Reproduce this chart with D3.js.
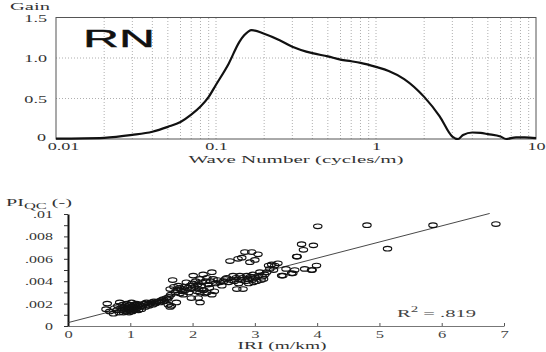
<!DOCTYPE html>
<html><head><meta charset="utf-8">
<script src="https://cdn.jsdelivr.net/npm/d3@7"></script>
<style>
html,body{margin:0;padding:0;background:#fff;}
svg{display:block;}
</style></head>
<body>
<svg id="chart" width="546" height="352" font-family="Liberation Serif, DejaVu Serif, serif"></svg>
<script>
// ---------- Top chart data: RN gain vs wave number ----------
const waveNumber = [0.01,0.02,0.03,0.04,0.05,0.06,0.07,0.08,0.09,0.1,0.12,0.14,0.15,0.167,0.2,0.25,0.3,0.4,0.5,0.6,0.7,0.8,1.0,1.2,1.5,2.0,2.5,3.0,3.26,3.5,4.0,4.5,5.0,6.0,6.5,7.5,8.5,10];
const gain       = [0.005,0.015,0.05,0.09,0.15,0.21,0.30,0.40,0.52,0.67,0.93,1.20,1.28,1.345,1.30,1.22,1.14,1.06,1.02,0.98,0.96,0.94,0.89,0.84,0.74,0.52,0.28,0.03,0.0,0.05,0.08,0.075,0.06,0.03,0.0,0.02,0.02,0.01];
const topXTicks = [0.01,0.1,1,10];
const topXTickLabels = ["0.01","0.1","1","10"];
const topYTicks = [0,0.5,1.0,1.5];
const topYTickLabels = ["0","0.5","1.0","1.5"];

// ---------- Bottom chart data: PI_QC vs IRI ----------
const iri = [
0.63,0.61,0.67,0.73,0.75,0.78,0.80,0.82,0.83,0.85,0.86,0.88,0.89,0.90,0.92,0.93,0.94,0.95,0.96,0.97,0.98,0.99,1.00,1.01,1.02,1.03,1.04,1.05,1.06,1.07,1.08,1.09,1.10,1.11,1.12,1.13,1.15,1.16,1.18,1.20,1.22,1.24,1.26,1.28,1.30,1.32,1.34,1.36,1.38,1.40,1.42,1.45,1.48,1.50,1.53,1.55,1.58,1.60,1.61,1.64,1.66,1.74,1.62,1.65,
1.64,1.68,1.70,1.72,1.75,1.77,1.79,1.80,1.82,1.84,1.85,1.87,1.88,1.90,1.92,1.94,1.96,1.98,1.98,2.00,2.01,2.03,2.05,2.07,2.08,2.09,2.10,2.12,2.12,2.12,2.14,2.15,2.17,2.18,2.20,2.21,2.23,2.23,2.25,2.27,2.29,2.31,2.31,2.33,2.35,2.37,
2.40,2.44,2.47,2.50,2.53,2.55,2.58,2.60,2.62,2.65,2.67,2.70,2.71,2.73,2.74,2.76,2.78,2.79,2.80,2.81,2.84,2.85,2.87,2.88,2.90,2.92,2.93,2.95,2.96,2.97,2.98,3.00,3.01,3.03,3.05,3.06,3.08,3.10,3.12,3.14,3.16,3.19,3.22,3.24,3.27,3.30,3.32,3.37,
3.43,3.45,3.50,3.59,3.61,3.64,3.67,3.68,3.75,3.78,3.80,3.91,3.92,3.94,3.99,4.01,4.80,5.13,5.86,6.87];
const piqc = [
.0020,.0015,.0013,.0011,.0016,.0014,.0018,.0012,.0021,.0016,.0014,.0019,.0012,.0017,.0015,.0013,.0020,.0018,.0016,.0014,.0012,.0019,.0017,.0015,.0021,.0013,.0018,.0016,.0014,.0019,.0017,.0015,.0020,.0016,.0018,.0014,.0019,.0017,.0015,.0018,.0020,.0017,.0021,.0019,.0018,.0020,.0021,.0019,.0022,.0020,.0021,.0022,.0021,.0023,.0024,.0022,.0025,.0024,.0019,.0017,.0018,.0021,.0026,.0028,
.0033,.0041,.0035,.0030,.0032,.0036,.0034,.0029,.0033,.0031,.0028,.0035,.0032,.0039,.0034,.0030,.0036,.0033,.0025,.0038,.0045,.0035,.0040,.0031,.0037,.0025,.0033,.0042,.0030,.0021,.0036,.0039,.0046,.0032,.0029,.0040,.0043,.0030,.0037,.0034,.0040,.0048,.0028,.0042,.0031,.0038,
.0041,.0039,.0036,.0040,.0042,.0043,.0039,.0058,.0041,.0045,.0040,.0043,.0033,.0060,.0038,.0045,.0041,.0061,.0043,.0033,.0066,.0040,.0045,.0042,.0038,.0057,.0044,.0066,.0041,.0046,.0039,.0059,.0043,.0040,.0064,.0045,.0048,.0041,.0044,.0042,.0046,.0048,.0054,.0051,.0055,.0050,.0054,.0056,
.0045,.0045,.0051,.0047,.0047,.0050,.0062,.0062,.0073,.0068,.0051,.0050,.0050,.0072,.0054,.0089,.0090,.0069,.0090,.0091];
const regIntercept = 0.0003, regSlope = 0.00144, regXmax = 6.77;
const botXTicks = [0,1,2,3,4,5,6,7];
const botXTickLabels = ["0","1","2","3","4","5","6","7"];
const botYTicks = [0,0.002,0.004,0.006,0.008,0.01];
const botYTickLabels = ["0",".002",".004",".006",".008",".01"];
const botYMinorTicks = [0,0.001,0.002,0.003,0.004,0.005,0.006,0.007,0.008,0.009,0.01];

const SERIF = "Liberation Serif, DejaVu Serif, serif";
const svg = d3.select("#chart");
function stretch(sel, k){
  sel.each(function(){
    const w = this.getComputedTextLength();
    d3.select(this).attr("textLength", w*k).attr("lengthAdjust","spacingAndGlyphs");
  });
}
function fixWidth(sel, w){ sel.attr("textLength", w).attr("lengthAdjust","spacingAndGlyphs"); }

// ================= TOP CHART =================
const tx = d3.scaleLog().domain([0.01,10]).range([56,536]);
const ty = d3.scaleLinear().domain([0,1.5]).range([139,17.5]);
const gTop = svg.append("g");

// minor log gridlines
const gridX = [];
[0.01,0.1,1].forEach(d => { for(let m=1;m<=9;m++){ const v=d*m; if(v>0.01 && v<10) gridX.push(v); } });
gTop.append("g").selectAll("line").data(gridX).join("line")
  .attr("x1",d=>tx(d)).attr("x2",d=>tx(d)).attr("y1",ty(0)).attr("y2",ty(1.5))
  .attr("stroke","#9a9a9a").attr("stroke-width",0.8).attr("stroke-dasharray","1,2");
gTop.append("g").selectAll("line").data([0.5,1.0]).join("line")
  .attr("x1",tx(0.01)).attr("x2",tx(10)).attr("y1",d=>ty(d)).attr("y2",d=>ty(d))
  .attr("stroke","#9a9a9a").attr("stroke-width",0.8).attr("stroke-dasharray","1,2");

// frame
gTop.append("rect").attr("x",tx(0.01)).attr("y",ty(1.5)).attr("width",tx(10)-tx(0.01)).attr("height",ty(0)-ty(1.5))
  .attr("fill","none").attr("stroke","#555").attr("stroke-width",1);

// axes
const tAxX = gTop.append("g").attr("transform",`translate(0,${ty(0)})`)
  .call(d3.axisBottom(tx).tickValues(topXTicks).tickFormat((d,i)=>topXTickLabels[i]).tickSize(0).tickPadding(3));
tAxX.select(".domain").remove();
tAxX.selectAll("text").attr("font-size",11).attr("fill","#333").attr("font-family",SERIF);
tAxX.selectAll(".tick").filter(d=>d===0.01).select("text").attr("dx",7);
stretch(tAxX.selectAll("text"),1.65);

const tAxY = gTop.append("g").attr("transform",`translate(${tx(0.01)},0)`)
  .call(d3.axisLeft(ty).tickValues(topYTicks).tickFormat((d,i)=>topYTickLabels[i]).tickSize(0).tickPadding(9));
tAxY.select(".domain").remove();
tAxY.selectAll("text").attr("font-size",11).attr("fill","#333").attr("font-family",SERIF);
tAxY.selectAll(".tick").filter(d=>d===0).select("text").attr("dy","0.15em").attr("dx",-1);
stretch(tAxY.selectAll("text"),1.65);

// curve
const line = d3.line().x((d,i)=>tx(waveNumber[i])).y(d=>ty(d)).curve(d3.curveMonotoneX);
gTop.append("path").datum(gain).attr("d",line).attr("fill","none").attr("stroke","#111").attr("stroke-width",2.2);

// labels
fixWidth(gTop.append("text").attr("x",10).attr("y",10).attr("font-size",10.5).attr("fill","#333").text("Gain"),40);
fixWidth(gTop.append("text").attr("x",296).attr("y",163).attr("text-anchor","middle").attr("font-size",11).attr("fill","#333").text("Wave Number (cycles/m)"),215);
fixWidth(gTop.append("text").attr("x",83).attr("y",47).attr("font-size",24)
  .attr("font-family","Liberation Sans, Arial, sans-serif").attr("fill","#111")
  .attr("stroke","#111").attr("stroke-width",0.4).text("RN"),72);

// ================= BOTTOM CHART =================
const bx = d3.scaleLinear().domain([0,7]).range([68,504]);
const by = d3.scaleLinear().domain([0,0.01]).range([326,214]);
const gBot = svg.append("g");

// x axis
const bAxX = gBot.append("g").attr("transform",`translate(0,${by(0)})`)
  .call(d3.axisBottom(bx).tickValues(botXTicks).tickFormat((d,i)=>botXTickLabels[i]).tickSizeInner(-3).tickSizeOuter(0).tickPadding(4));
bAxX.select(".domain").attr("stroke","#777").attr("stroke-width",1);
bAxX.selectAll(".tick line").attr("stroke","#555");
bAxX.selectAll("text").attr("font-size",11).attr("fill","#444").attr("font-family",SERIF);
stretch(bAxX.selectAll("text"),1.5);

// y axis minor ticks + labels
const bAxYm = gBot.append("g").attr("transform",`translate(${bx(0)},0)`)
  .call(d3.axisLeft(by).tickValues(botYMinorTicks).tickFormat("").tickSizeInner(4).tickSizeOuter(0));
bAxYm.select(".domain").attr("stroke","#111").attr("stroke-width",2);
bAxYm.selectAll(".tick line").attr("stroke","#333");
const bAxY = gBot.append("g").attr("transform",`translate(${bx(0)},0)`)
  .call(d3.axisLeft(by).tickValues(botYTicks).tickFormat((d,i)=>botYTickLabels[i]).tickSize(0).tickPadding(15));
bAxY.select(".domain").remove();
bAxY.selectAll("text").attr("font-size",11).attr("fill","#333").attr("font-family",SERIF);
stretch(bAxY.selectAll("text"),1.45);

// regression line
gBot.append("line").attr("x1",bx(0)).attr("y1",by(regIntercept))
  .attr("x2",bx(regXmax)).attr("y2",by(regIntercept+regSlope*regXmax))
  .attr("stroke","#333").attr("stroke-width",0.9);

// points
gBot.append("g").selectAll("ellipse").data(iri).join("ellipse")
  .attr("cx",d=>bx(d)).attr("cy",(d,i)=>by(piqc[i]))
  .attr("rx",4.2).attr("ry",2.3).attr("fill","none").attr("stroke","#111").attr("stroke-width",1.15);

// labels
const yl = gBot.append("text").attr("x",6).attr("y",206).attr("font-size",11).attr("fill","#333");
yl.append("tspan").text("PI");
yl.append("tspan").attr("font-size",9).attr("dy",3).text("QC");
yl.append("tspan").attr("dy",-3).text(" (-)");
fixWidth(yl,66);

fixWidth(gBot.append("text").attr("x",282).attr("y",349).attr("text-anchor","middle").attr("font-size",11).attr("fill","#333").text("IRI (m/km)"),89);

const r2 = gBot.append("text").attr("x",397).attr("y",317).attr("font-size",11).attr("fill","#444");
r2.append("tspan").text("R");
r2.append("tspan").attr("font-size",8).attr("dy",-5).text("2");
r2.append("tspan").attr("dy",5).text(" = .819");
fixWidth(r2,79);
</script>
</body></html>
